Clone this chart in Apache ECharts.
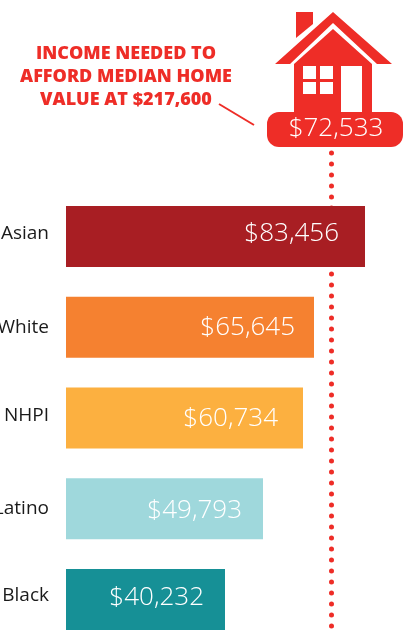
<!DOCTYPE html>
<html>
<head>
<meta charset="utf-8">
<style>
  html, body { margin: 0; padding: 0; background: #fff; }
  #chart { width: 403px; height: 634px; }
</style>
<script src="https://cdn.jsdelivr.net/npm/echarts@6/dist/echarts.min.js"></script>
</head>
<body>
<div id="chart"></div>
<script>
// data
const categories = ['Asian', 'White', 'NHPI', 'Latino', 'Black'];
const incomes = [83456, 65645, 60734, 49793, 40232];
// the drawn bars are not proportional to their printed incomes, so lengths are read separately
const barLengths = [81685, 67752, 64746, 53818, 43437];
const medianIncome = 72533;
const calloutLines = ['INCOME NEEDED TO', 'AFFORD MEDIAN HOME', 'VALUE AT $217,600'];

const barColors = ['#a81e23', '#f58130', '#fcb040', '#9fd8dc', '#169096'];
const labelInsets = [26, 19, 25, 21, 21];
const valueNudges = [-3, 0, 1, 2, -2];
const categoryLifts = [3, 0, 2, 0, 4];
const RED = '#ee2d27';
const FONT = '"Open Sans", sans-serif';

const money = (v) => '$' + v.toLocaleString('en-US');

const chart = echarts.init(document.getElementById('chart'));

// rich styles that lift each category label a little, same as the reference
const categoryRich = {};
categoryLifts.forEach((lift, i) => {
  categoryRich['c' + i] = {
    color: '#1a1a1a',
    fontFamily: FONT,
    fontSize: 19,
    padding: [0, 0, lift * 2, 0],
  };
});

// house + pill
const house = [
  { type: 'polygon', shape: { points: [[296, 12], [313, 12], [313, 24], [296, 38]] }, style: { fill: RED } },
  { type: 'polygon', shape: { points: [[333, 12], [392, 64], [377, 64], [333, 23], [290, 64], [275, 64]] }, style: { fill: RED } },
  { type: 'polygon', shape: { points: [[333, 29], [372, 64], [372, 114], [294, 114], [294, 64]] }, style: { fill: RED } },
  { type: 'rect', shape: { x: 303, y: 66, width: 13, height: 13 }, style: { fill: '#fff' } },
  { type: 'rect', shape: { x: 320, y: 66, width: 13, height: 13 }, style: { fill: '#fff' } },
  { type: 'rect', shape: { x: 303, y: 82, width: 13, height: 12 }, style: { fill: '#fff' } },
  { type: 'rect', shape: { x: 320, y: 82, width: 13, height: 12 }, style: { fill: '#fff' } },
  { type: 'rect', shape: { x: 341, y: 66, width: 21, height: 46 }, style: { fill: '#fff' } },
  { type: 'rect', shape: { x: 267, y: 112, width: 136, height: 35, r: 12 }, style: { fill: RED } },
  {
    type: 'text',
    x: 336,
    y: 129,
    style: {
      text: money(medianIncome),
      fill: '#fff',
      font: '300 26px ' + FONT,
      textAlign: 'center',
      textVerticalAlign: 'middle',
    },
  },
  { type: 'line', shape: { x1: 219, y1: 104, x2: 254, y2: 125 }, style: { stroke: RED, lineWidth: 2 } },
];

chart.setOption({
  animation: false,
  title: {
    text: calloutLines.join('\n'),
    left: 126,
    top: 42,
    padding: 0,
    textAlign: 'center',
    textStyle: {
      color: RED,
      fontFamily: FONT,
      fontWeight: 800,
      fontSize: 18,
      lineHeight: 23,
    },
  },
  grid: { left: 66, right: 0, top: 191, bottom: -11, outerBoundsMode: 'none' },
  xAxis: { type: 'value', show: false, min: 0, max: 92065 },
  yAxis: {
    type: 'category',
    data: categories,
    inverse: true,
    axisLine: { show: false },
    axisTick: { show: false },
    axisLabel: {
      margin: 17,
      formatter: (name, i) => '{c' + i + '|' + name + '}',
      rich: categoryRich,
    },
  },
  series: [
    {
      type: 'bar',
      z: 2,
      barWidth: 61,
      data: barLengths.map((v, i) => ({
        value: v,
        itemStyle: { color: barColors[i] },
        label: { distance: labelInsets[i], offset: [0, valueNudges[i]] },
      })),
      label: {
        show: true,
        position: 'insideRight',
        color: '#fff',
        fontFamily: FONT,
        fontWeight: 300,
        fontSize: 26,
        formatter: (p) => money(incomes[p.dataIndex]),
      },
      markLine: {
        silent: true,
        z: 1,
        symbol: 'none',
        label: { show: false },
        lineStyle: { color: RED, width: 5, type: [0, 11], cap: 'round', opacity: 1 },
        data: [[{ xAxis: medianIncome, y: 153 }, { xAxis: medianIncome, y: 634 }]],
      },
    },
  ],
  graphic: house,
});
</script>
</body>
</html>
